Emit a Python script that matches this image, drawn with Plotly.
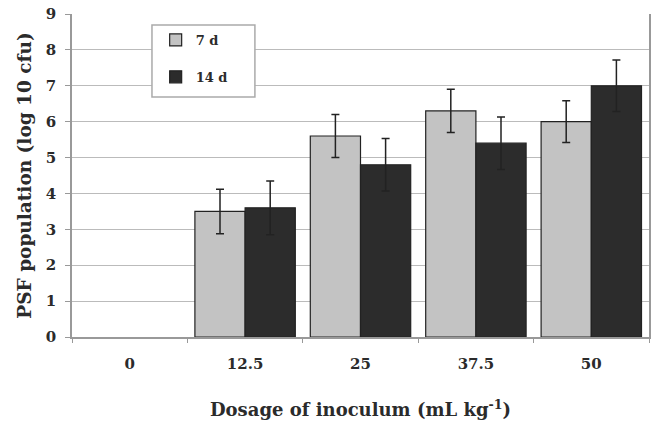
import plotly.graph_objects as go

categories = ["0", "12.5", "25", "37.5", "50"]
d7_values = [None, 3.5, 5.6, 6.3, 6.0]
d7_errors = [0, 0.62, 0.6, 0.6, 0.58]
d14_values = [None, 3.6, 4.8, 5.4, 7.0]
d14_errors = [0, 0.75, 0.73, 0.73, 0.72]
y_ticks = [0, 1, 2, 3, 4, 5, 6, 7, 8, 9]

FONT = "Liberation Serif"
WIDE = "DejaVu Serif"
TXT = "#2b2b2b"

fig = go.Figure()
fig.add_trace(go.Bar(
    name="7 d", x=categories, y=d7_values,
    marker=dict(color="#c3c3c3", line=dict(color="#222", width=1.2)),
    error_y=dict(type="data", array=d7_errors, visible=True, color="#222", thickness=1.5, width=4),
    legendgroup="a",
))
fig.add_trace(go.Bar(
    name="14 d", x=categories, y=d14_values,
    marker=dict(color="#2c2c2c", line=dict(color="#222", width=1.2)),
    error_y=dict(type="data", array=d14_errors, visible=True, color="#222", thickness=1.5, width=4),
    legendgroup="b",
))

fig.update_layout(
    width=654, height=423,
    margin=dict(l=72, r=5, t=14, b=86),
    paper_bgcolor="white", plot_bgcolor="white",
    barmode="group", bargap=0.13, bargroupgap=0,
    font=dict(family=FONT, color=TXT, size=14, weight="bold"),
    showlegend=True,
    legend=dict(
        x=0.145, y=0.966, xanchor="left", yanchor="top",
        bgcolor="rgba(0,0,0,0)", borderwidth=0,
        font=dict(family=WIDE, size=13, color=TXT, weight="bold"),
        tracegroupgap=17, itemwidth=30,
    ),
    shapes=[dict(
        type="rect", xref="paper", yref="paper",
        x0=0.1386, x1=0.317, y0=0.743, y1=0.966,
        fillcolor="white", line=dict(color="#aaa", width=1.5), layer="above",
    )],
    xaxis=dict(
        type="category", showgrid=False, automargin=False,
        showline=True, linecolor="#999", linewidth=1.5,
        ticks="outside", tickson="boundaries", ticklen=4, tickcolor="#999",
        ticklabelstandoff=12,
        tickfont=dict(family=WIDE, size=15, color=TXT, weight="bold"),
        title=dict(text="Dosage of inoculum (mL kg<sup>-1</sup>)",
                   font=dict(family=WIDE, size=18, color=TXT, weight="bold"), standoff=32),
    ),
    yaxis=dict(
        range=[0, 9], tickvals=y_ticks, showgrid=True, gridcolor="#bbb", gridwidth=1.2,
        showline=True, linecolor="#999", linewidth=1.5, mirror=True, automargin=False,
        ticks="outside", ticklen=5, tickcolor="#999",
        ticklabelstandoff=6,
        tickfont=dict(family=WIDE, size=15, color=TXT, weight="bold"),
        zeroline=False,
        title=dict(text="PSF population (log 10 cfu)",
                   font=dict(family=WIDE, size=18.5, color=TXT, weight="bold"), standoff=9),
    ),
)

fig.write_html("out.html", config={"displayModeBar": False},
               post_script="document.body.style.margin='0';")
